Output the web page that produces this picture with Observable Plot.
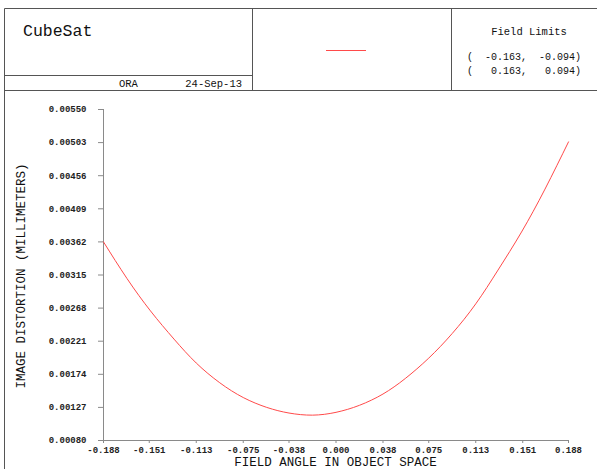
<!DOCTYPE html>
<html>
<head>
<meta charset="utf-8">
<script src="https://cdn.jsdelivr.net/npm/d3@7"></script>
<script src="https://cdn.jsdelivr.net/npm/@observablehq/plot@0.6"></script>
<style>
  html, body { margin: 0; padding: 0; background: #fff; }
  #wrap { position: relative; width: 597px; height: 469px; overflow: hidden; }
</style>
</head>
<body>
<div id="wrap"></div>
<script>
// Field angle (object space) and image distortion (mm)
const fieldAngle = [-0.188, -0.169, -0.150, -0.131, -0.113, -0.094, -0.075, -0.056, -0.038, -0.019, 0.000, 0.019, 0.038, 0.056, 0.075, 0.094, 0.113, 0.131, 0.150, 0.169, 0.188];
const distortion = [0.00362, 0.00310, 0.00264, 0.00224, 0.00190, 0.00162, 0.00141, 0.00127, 0.00119, 0.00116, 0.00120, 0.00130, 0.00146, 0.00168, 0.00197, 0.00232, 0.00274, 0.00322, 0.00376, 0.00437, 0.00504];

const xTicks = [-0.188, -0.151, -0.113, -0.075, -0.038, 0.000, 0.038, 0.075, 0.113, 0.151, 0.188];
const yTicks = [0.00080, 0.00127, 0.00174, 0.00221, 0.00268, 0.00315, 0.00362, 0.00409, 0.00456, 0.00503, 0.00550];

const titleText = "CubeSat";
const footerLeft = "ORA";
const footerDate = "24-Sep-13";
const limitsTitle = "Field Limits";
const limitsLines = ["(  -0.163,  -0.094)", "(   0.163,   0.094)"];
const xLabel = "FIELD ANGLE IN OBJECT SPACE";
const yLabel = "IMAGE DISTORTION (MILLIMETERS)";

const data = fieldAngle.map((x, i) => ({x, y: distortion[i]}));

const lineColor = "#ff4a4a";
const axisColor = "#8a8a8a";
const mono = "'Liberation Mono', 'DejaVu Sans Mono', monospace";

const chart = Plot.plot({
  width: 597,
  height: 469,
  marginLeft: 103,
  marginRight: 29,
  marginTop: 109,
  marginBottom: 29,
  style: {fontFamily: mono, background: "#fff", overflow: "visible"},
  x: {domain: [-0.188, 0.188]},
  y: {domain: [0.0008, 0.0055]},
  marks: [
    Plot.ruleX([-0.188], {stroke: axisColor}),
    Plot.ruleY([0.0008], {stroke: axisColor}),
    Plot.axisX({
      ticks: xTicks, tickSize: 3, tickPadding: 3, stroke: axisColor,
      tickFormat: d => d.toFixed(3), fontSize: 9, fontWeight: "bold", fill: "#222",
      label: null
    }),
    Plot.axisY({
      ticks: yTicks, tickSize: 5, tickPadding: 12, stroke: axisColor,
      tickFormat: d => d.toFixed(5), fontSize: 9, fontWeight: "bold", fill: "#222",
      label: null
    }),
    Plot.line(data, {x: "x", y: "y", stroke: lineColor, strokeWidth: 1, curve: "natural"})
  ]
});

document.getElementById("wrap").appendChild(chart);

// Header boxes and labels drawn into the same SVG
const svg = d3.select(chart);
const g = svg.append("g").attr("fill", "none").attr("stroke", "#555").attr("stroke-width", 1);
const lines = [
  [4.5, 8.5, 597, 8.5],
  [4.5, 8.5, 4.5, 469],
  [252.5, 8.5, 252.5, 90.5],
  [451.5, 8.5, 451.5, 90.5],
  [4.5, 75.5, 252.5, 75.5],
  [4.5, 90.5, 597, 90.5]
];
lines.forEach(([x1, y1, x2, y2]) => g.append("line").attr("x1", x1).attr("y1", y1).attr("x2", x2).attr("y2", y2));

const t = svg.append("g").attr("font-family", mono).attr("fill", "#111").attr("text-anchor", "start");
t.append("text").attr("x", 23).attr("y", 36).attr("font-size", 16.5).attr("text-anchor", "start").text(titleText);
t.append("text").attr("x", 119).attr("y", 87).attr("font-size", 10.5).attr("text-anchor", "start").text(footerLeft);
t.append("text").attr("x", 242).attr("y", 87).attr("font-size", 10.5).attr("text-anchor", "end").text(footerDate);
t.append("text").attr("x", 529).attr("y", 35).attr("font-size", 10.5).attr("text-anchor", "middle").text(limitsTitle);
limitsLines.forEach((s, i) => t.append("text").attr("x", 467).attr("y", 60 + i * 13.5).attr("font-size", 10)
  .attr("text-anchor", "start").attr("xml:space", "preserve").style("white-space", "pre").text(s));

// legend sample line
svg.append("line").attr("x1", 326).attr("x2", 366).attr("y1", 50.5).attr("y2", 50.5).attr("stroke", lineColor).attr("stroke-width", 1);

// axis titles
t.append("text").attr("x", 335.5).attr("y", 466).attr("font-size", 12.5).attr("text-anchor", "middle").text(xLabel);
t.append("text").attr("transform", "translate(25,276) rotate(-90)").attr("font-size", 12.5).attr("text-anchor", "middle").text(yLabel);
</script>
</body>
</html>
